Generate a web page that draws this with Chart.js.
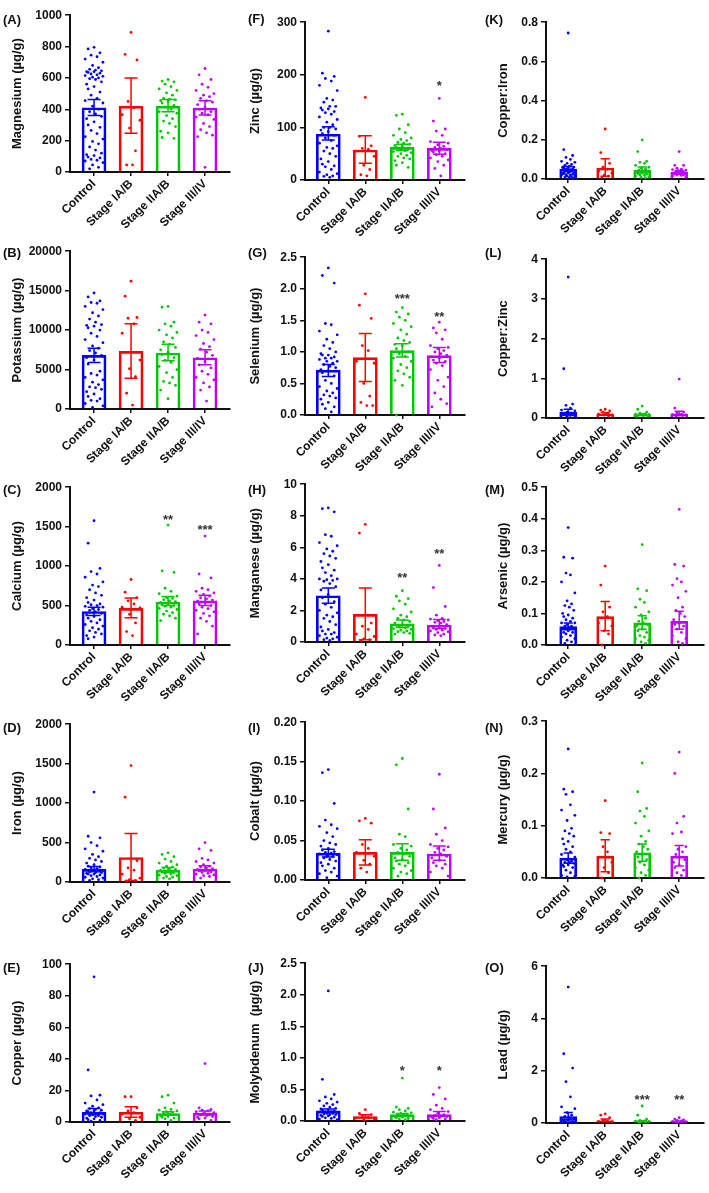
<!DOCTYPE html>
<html>
<head>
<meta charset="utf-8">
<script src="https://cdn.jsdelivr.net/npm/chart.js@4.4.0/dist/chart.umd.min.js"></script>
<style>
  body { margin: 0; background: #fff; }
  #fig { position: relative; width: 709px; height: 1193px; overflow: hidden; font-family: "Liberation Sans", Arial, sans-serif; }
  .panel { position: absolute; }
  .tag { position: absolute; font-weight: bold; font-size: 13px; color: #111; line-height: 16px; }
</style>
</head>
<body>
<div id="fig"></div>
<script>
// groups shared by every panel
const groups = ['Control', 'Stage IA/B', 'Stage IIA/B', 'Stage III/IV'];
const groupColors = ['#0000ff', '#ff0000', '#00c800', '#c000ff'];

// (A) Magnesium
const magnesiumMean = [410, 420, 420, 408];
const magnesiumCI = [[360, 462], [247, 600], [385, 463], [364, 455]];
const magnesiumStars = [null, null, null, null];
const magnesiumDots = [
  [795, 785, 760, 745, 735, 720, 700, 680, 665, 655, 650, 645, 640, 640, 635, 630, 625, 620, 615, 610, 605, 600, 595, 590, 575, 560, 545, 530, 510, 490, 470, 455, 440, 420, 400, 385, 370, 355, 340, 320, 300, 285, 265, 245, 225, 210, 195, 180, 160, 140, 120, 110, 105, 95, 90, 80, 75, 70, 60, 45, 30, 20],
  [890, 750, 715, 450, 410, 365, 330, 280, 135, 45, 45],
  [590, 580, 575, 560, 545, 530, 520, 505, 490, 470, 465, 460, 455, 450, 440, 425, 415, 400, 385, 375, 360, 340, 325, 310, 290, 260, 250, 220, 215],
  [660, 620, 590, 560, 540, 520, 500, 490, 480, 470, 455, 445, 430, 415, 400, 385, 375, 365, 350, 335, 310, 290, 270, 250, 235, 225, 30]
];

// (B) Potassium
const potassiumMean = [6800, 7300, 7100, 6500];
const potassiumCI = [[5900, 7700], [3900, 10800], [6100, 8200], [5600, 7500]];
const potassiumStars = [null, null, null, null];
const potassiumDots = [
  [14700, 14200, 13700, 13500, 13400, 13000, 12600, 12200, 11800, 11400, 11000, 10700, 10600, 10500, 10300, 10000, 9600, 9200, 8800, 8400, 8000, 7700, 7400, 7100, 6800, 6500, 6200, 5700, 4800, 4500, 4300, 4000, 3700, 3400, 3100, 2800, 2700, 2500, 2200, 1900, 1600, 1300, 1100, 1000, 700, 400, 200],
  [16200, 14300, 11600, 11500, 10800, 9600, 6200, 5100, 4100, 2000, 500],
  [13000, 12900, 11000, 10800, 10500, 10000, 9700, 9400, 9000, 8500, 8200, 7800, 7500, 7200, 6900, 6500, 6200, 5900, 5400, 5000, 4600, 4000, 3500, 3300, 3000, 2400, 1300],
  [11900, 11000, 10800, 10000, 9700, 9300, 8800, 8300, 7900, 7600, 7200, 6800, 6400, 6000, 5600, 5200, 4800, 4400, 4000, 3700, 3300, 2800, 2400, 1000]
];

// (C) Calcium
const calciumMean = [425, 465, 545, 560];
const calciumCI = [[375, 480], [345, 595], [500, 615], [500, 630]];
const calciumStars = [null, null, ['**', 1620], ['***', 1495]];
const calciumDots = [
  [1575, 1290, 970, 930, 900, 860, 800, 760, 740, 700, 660, 630, 600, 570, 540, 520, 510, 500, 490, 480, 460, 450, 440, 420, 400, 380, 360, 340, 320, 300, 280, 260, 240, 220, 200, 180, 160, 140, 120, 100, 80],
  [830, 670, 600, 560, 520, 480, 470, 390, 280, 170, 120],
  [1520, 940, 920, 720, 680, 650, 620, 600, 590, 575, 560, 550, 540, 525, 510, 500, 490, 480, 465, 450, 430, 410, 390, 370, 340, 310],
  [1380, 900, 850, 720, 700, 680, 660, 640, 620, 600, 585, 570, 555, 540, 520, 500, 480, 460, 440, 420, 400, 370, 340, 300, 240, 140]
];

// (D) Iron
const ironMean = [160, 310, 150, 165];
const ironCI = [[130, 195], [20, 615], [120, 185], [140, 205]];
const ironStars = [null, null, null, null];
const ironDots = [
  [1140, 580, 560, 500, 460, 420, 390, 350, 320, 300, 280, 260, 240, 220, 200, 190, 180, 170, 160, 150, 150, 140, 130, 120, 120, 110, 100, 100, 90, 80, 70, 60, 50, 40, 30, 20],
  [1475, 1075, 270, 180, 150, 100, 50, 30, 20, 10],
  [370, 350, 320, 290, 260, 240, 220, 200, 190, 180, 170, 160, 150, 140, 130, 120, 110, 100, 90, 80, 70, 60, 50, 40],
  [500, 420, 400, 300, 280, 260, 240, 220, 200, 190, 180, 170, 160, 150, 140, 130, 120, 110, 100, 90, 80, 70, 50]
];

// (E) Copper
const copperMean = [6.2, 6.2, 5.4, 5.6];
const copperCI = [[4.8, 8.5], [3, 9.7], [4.5, 6.5], [4.5, 7]];
const copperStars = [null, null, null, null];
const copperDots = [
  [92, 33, 17, 16.5, 14, 12, 11, 10, 9, 8.5, 8, 7.5, 7, 7, 6.5, 6, 6, 5.5, 5, 5, 4.5, 4, 4, 3.5, 3, 2.5, 2, 1.5, 1, 0.5],
  [16, 16, 9, 7, 6, 5, 3, 2, 1],
  [17, 16, 12, 9, 8, 7.5, 7, 6.5, 6, 5.5, 5, 4.5, 4, 3.5, 3, 2.5, 2, 1],
  [37, 9, 8, 7.5, 7, 6.5, 6, 5.5, 5, 4.5, 4, 3.5, 3, 2.5, 2, 1]
];

// (F) Zinc
const zincMean = [87, 57, 62, 60];
const zincCI = [[76, 101], [32, 84], [56, 68], [49, 72]];
const zincStars = [null, null, null, ['*', 184]];
const zincDots = [
  [283, 203, 197, 193, 188, 180, 170, 155, 152, 148, 140, 140, 137, 135, 133, 130, 128, 125, 120, 115, 110, 105, 100, 100, 97, 95, 92, 88, 85, 80, 75, 70, 65, 62, 60, 55, 50, 45, 40, 35, 30, 27, 25, 20, 15, 12, 10, 8, 7, 5],
  [157, 83, 65, 60, 58, 55, 45, 28, 20, 10, 8],
  [125, 123, 105, 97, 90, 85, 80, 77, 75, 72, 70, 68, 66, 64, 62, 60, 58, 56, 54, 52, 50, 47, 45, 42, 40, 37, 33, 28, 24],
  [155, 112, 97, 93, 85, 73, 70, 67, 64, 62, 60, 58, 56, 55, 53, 50, 48, 45, 42, 38, 35, 28, 22, 8]
];

// (G) Selenium
const seleniumMean = [0.71, 0.91, 1.02, 0.94];
const seleniumCI = [[0.61, 0.80], [0.53, 1.29], [0.92, 1.13], [0.83, 1.07]];
const seleniumStars = [null, null, ['***', 1.88], ['**', 1.60]];
const seleniumDots = [
  [2.33, 2.21, 2.09, 1.45, 1.43, 1.33, 1.27, 1.2, 1.15, 1.1, 1.05, 1.0, 0.97, 0.95, 0.95, 0.92, 0.9, 0.9, 0.88, 0.85, 0.85, 0.82, 0.8, 0.77, 0.75, 0.72, 0.7, 0.67, 0.62, 0.55, 0.5, 0.45, 0.42, 0.38, 0.35, 0.32, 0.3, 0.27, 0.25, 0.2, 0.17, 0.13, 0.1, 0.05],
  [1.92, 1.74, 1.53, 1.1, 1.02, 0.85, 0.82, 0.5, 0.3, 0.2, 0.15, 0.15],
  [1.7, 1.63, 1.6, 1.55, 1.5, 1.45, 1.4, 1.35, 1.28, 1.22, 1.18, 1.15, 1.12, 1.1, 1.05, 1.0, 0.97, 0.93, 0.9, 0.85, 0.8, 0.75, 0.7, 0.65, 0.6, 0.55, 0.47, 0.0],
  [1.47, 1.38, 1.35, 1.3, 1.2, 1.1, 1.07, 1.05, 1.02, 1.0, 0.97, 0.95, 0.92, 0.9, 0.87, 0.85, 0.82, 0.78, 0.72, 0.6, 0.55, 0.45, 0.35, 0.25, 0.18, 0.13]
];

// (H) Manganese
const manganeseMean = [2.93, 1.75, 1.15, 1.08];
const manganeseCI = [[2.45, 3.42], [0.15, 3.42], [0.92, 1.4], [0.85, 1.42]];
const manganeseStars = [null, null, ['**', 4.23], ['**', 5.75]];
const manganeseDots = [
  [8.5, 8.45, 8.25, 6.8, 6.7, 6.3, 6.1, 5.9, 5.75, 5.6, 5.45, 5.3, 5.1, 4.9, 4.7, 4.55, 4.4, 4.2, 4.0, 4.0, 3.95, 3.9, 3.85, 3.7, 3.5, 3.3, 3.0, 2.8, 2.55, 2.4, 2.2, 2.0, 1.85, 1.7, 1.6, 1.5, 1.3, 1.1, 0.95, 0.8, 0.7, 0.6, 0.5, 0.5, 0.4, 0.3, 0.25, 0.2, 0.15, 0.1],
  [7.45, 6.9, 1.2, 1.0, 0.8, 0.5, 0.35, 0.2, 0.15, 0.1],
  [3.25, 2.9, 2.75, 2.6, 2.4, 2.1, 1.9, 1.7, 1.6, 1.5, 1.4, 1.3, 1.2, 1.1, 1.05, 1.0, 0.95, 0.9, 0.85, 0.8, 0.75, 0.7, 0.65, 0.6, 0.55, 0.5],
  [4.85, 3.45, 2.25, 1.7, 1.5, 1.45, 1.4, 1.35, 1.3, 1.25, 1.2, 1.1, 1.0, 0.95, 0.9, 0.85, 0.8, 0.75, 0.7, 0.65, 0.6, 0.5, 0.45, 0.4]
];

// (I) Cobalt
const cobaltMean = [0.034, 0.035, 0.035, 0.033];
const cobaltCI = [[0.029, 0.039], [0.019, 0.051], [0.025, 0.046], [0.025, 0.043]];
const cobaltStars = [null, null, null, null];
const cobaltDots = [
  [0.14, 0.136, 0.097, 0.076, 0.07, 0.068, 0.065, 0.06, 0.055, 0.05, 0.047, 0.045, 0.043, 0.04, 0.038, 0.036, 0.035, 0.034, 0.033, 0.032, 0.03, 0.03, 0.028, 0.026, 0.024, 0.022, 0.02, 0.018, 0.015, 0.012, 0.01, 0.008, 0.005, 0.003],
  [0.078, 0.075, 0.072, 0.045, 0.04, 0.035, 0.03, 0.025, 0.02, 0.015, 0.01],
  [0.154, 0.146, 0.09, 0.058, 0.055, 0.045, 0.043, 0.04, 0.038, 0.035, 0.033, 0.03, 0.028, 0.026, 0.024, 0.022, 0.02, 0.018, 0.015, 0.012, 0.01, 0.008, 0.005],
  [0.134, 0.09, 0.066, 0.058, 0.05, 0.045, 0.042, 0.04, 0.038, 0.035, 0.033, 0.03, 0.028, 0.025, 0.022, 0.02, 0.018, 0.015, 0.01, 0.005]
];

// (J) Molybdenum
const molybdenumMean = [0.16, 0.07, 0.1, 0.1];
const molybdenumCI = [[0.13, 0.19], [0.05, 0.1], [0.08, 0.12], [0.07, 0.15]];
const molybdenumStars = [null, null, ['*', 0.84], ['*', 0.84]];
const molybdenumDots = [
  [2.06, 0.66, 0.42, 0.38, 0.35, 0.32, 0.3, 0.28, 0.26, 0.24, 0.22, 0.2, 0.19, 0.18, 0.17, 0.16, 0.15, 0.15, 0.14, 0.13, 0.12, 0.12, 0.11, 0.1, 0.1, 0.09, 0.08, 0.07, 0.06, 0.05, 0.04, 0.03, 0.02],
  [0.18, 0.12, 0.1, 0.08, 0.06, 0.05, 0.03, 0.02],
  [0.68, 0.22, 0.2, 0.18, 0.16, 0.14, 0.13, 0.12, 0.11, 0.1, 0.09, 0.08, 0.07, 0.06, 0.05, 0.04, 0.03, 0.02],
  [0.53, 0.42, 0.35, 0.25, 0.2, 0.18, 0.15, 0.12, 0.1, 0.09, 0.08, 0.07, 0.06, 0.05, 0.04, 0.03, 0.02]
];

// (K) Copper:Iron
const cuFeMean = [0.051, 0.056, 0.044, 0.034];
const cuFeCI = [[0.039, 0.064], [0.014, 0.103], [0.03, 0.061], [0.024, 0.044]];
const cuFeStars = [null, null, null, null];
const cuFeDots = [
  [0.745, 0.15, 0.12, 0.11, 0.1, 0.09, 0.085, 0.08, 0.075, 0.07, 0.065, 0.06, 0.06, 0.058, 0.055, 0.05, 0.05, 0.048, 0.045, 0.042, 0.04, 0.04, 0.038, 0.035, 0.032, 0.03, 0.03, 0.028, 0.025, 0.022, 0.02, 0.02, 0.018, 0.015, 0.012, 0.01, 0.008, 0.005],
  [0.255, 0.135, 0.08, 0.06, 0.05, 0.04, 0.03, 0.02, 0.015, 0.01],
  [0.2, 0.14, 0.09, 0.085, 0.08, 0.07, 0.06, 0.055, 0.05, 0.045, 0.04, 0.038, 0.035, 0.03, 0.028, 0.025, 0.02, 0.018, 0.015, 0.01, 0.008, 0.005],
  [0.14, 0.07, 0.07, 0.055, 0.05, 0.048, 0.045, 0.042, 0.04, 0.038, 0.035, 0.032, 0.03, 0.028, 0.025, 0.022, 0.02, 0.018, 0.015, 0.01]
];

// (L) Copper:Zinc
const cuZnMean = [0.14, 0.1, 0.085, 0.1];
const cuZnCI = [[0.08, 0.22], [0.08, 0.13], [0.07, 0.1], [0.06, 0.17]];
const cuZnStars = [null, null, null, null];
const cuZnDots = [
  [3.55, 1.24, 0.35, 0.32, 0.25, 0.2, 0.18, 0.15, 0.13, 0.12, 0.12, 0.1, 0.1, 0.09, 0.08, 0.08, 0.07, 0.06, 0.06, 0.05, 0.04],
  [0.22, 0.2, 0.18, 0.15, 0.12, 0.1, 0.08, 0.07, 0.05],
  [0.3, 0.22, 0.15, 0.12, 0.1, 0.1, 0.09, 0.08, 0.08, 0.07, 0.06, 0.05, 0.04],
  [0.98, 0.25, 0.15, 0.12, 0.1, 0.09, 0.08, 0.07, 0.06, 0.05]
];

// (M) Arsenic
const arsenicMean = [0.058, 0.09, 0.07, 0.075];
const arsenicCI = [[0.048, 0.07], [0.045, 0.138], [0.05, 0.093], [0.05, 0.107]];
const arsenicStars = [null, null, null, null];
const arsenicDots = [
  [0.372, 0.278, 0.275, 0.228, 0.222, 0.2, 0.165, 0.14, 0.13, 0.125, 0.12, 0.11, 0.1, 0.095, 0.09, 0.085, 0.08, 0.075, 0.07, 0.07, 0.065, 0.06, 0.06, 0.055, 0.05, 0.05, 0.045, 0.04, 0.04, 0.035, 0.03, 0.025, 0.02, 0.015, 0.01, 0.005],
  [0.25, 0.19, 0.12, 0.105, 0.09, 0.07, 0.06, 0.045, 0.035, 0.0],
  [0.318, 0.178, 0.172, 0.145, 0.135, 0.12, 0.105, 0.095, 0.085, 0.075, 0.07, 0.065, 0.06, 0.05, 0.045, 0.04, 0.03, 0.025, 0.02, 0.015, 0.01, 0.005],
  [0.43, 0.255, 0.25, 0.21, 0.2, 0.19, 0.17, 0.15, 0.12, 0.11, 0.1, 0.09, 0.08, 0.07, 0.065, 0.06, 0.05, 0.04, 0.03, 0.02, 0.01, 0.005]
];

// (N) Mercury
const mercuryMean = [0.038, 0.042, 0.048, 0.042];
const mercuryCI = [[0.028, 0.048], [0.012, 0.073], [0.032, 0.065], [0.023, 0.062]];
const mercuryStars = [null, null, null, null];
const mercuryDots = [
  [0.247, 0.17, 0.165, 0.16, 0.14, 0.13, 0.12, 0.11, 0.095, 0.09, 0.085, 0.08, 0.075, 0.07, 0.065, 0.06, 0.055, 0.05, 0.045, 0.04, 0.035, 0.032, 0.03, 0.03, 0.028, 0.025, 0.025, 0.022, 0.02, 0.015, 0.01, 0.005, 0.003, 0.002],
  [0.148, 0.087, 0.085, 0.06, 0.05, 0.04, 0.03, 0.02, 0.01, 0.0],
  [0.22, 0.165, 0.133, 0.128, 0.118, 0.105, 0.09, 0.08, 0.07, 0.065, 0.06, 0.055, 0.05, 0.045, 0.04, 0.035, 0.03, 0.025, 0.02, 0.015, 0.01, 0.005, 0.0],
  [0.241, 0.2, 0.118, 0.105, 0.088, 0.085, 0.06, 0.055, 0.05, 0.045, 0.04, 0.035, 0.03, 0.025, 0.02, 0.015, 0.01, 0.005]
];

// (O) Lead
const leadMean = [0.25, 0.08, 0.07, 0.06];
const leadCI = [[0.12, 0.4], [0.05, 0.15], [0.05, 0.09], [0.04, 0.08]];
const leadStars = [null, null, ['***', 0.96], ['**', 0.96]];
const leadDots = [
  [5.2, 2.65, 2.1, 1.58, 1.0, 0.62, 0.55, 0.4, 0.3, 0.25, 0.2, 0.15, 0.12, 0.1, 0.08, 0.06, 0.05, 0.04, 0.03, 0.02],
  [0.35, 0.3, 0.2, 0.1, 0.08, 0.06, 0.05],
  [0.65, 0.3, 0.15, 0.1, 0.08, 0.07, 0.06, 0.05, 0.04, 0.03],
  [0.2, 0.15, 0.12, 0.1, 0.08, 0.06, 0.05, 0.04]
];

// page layout per column
const colLeft = [0, 236, 472];
const colWidth = [236, 236, 237];
const axisX = [70, 305, 546];
const plotRight = [230, 465, 704];
const titlePad = [10, 12, 24];
const barW = [24, 24, 17];
const dotSpread = [1, 1, 0.75];
const xMin = [-0.65, -0.63, -0.6];
const tagX = [3, 248, 485];
const jitter = [0, -0.16, 0.16, -0.08, 0.08, -0.24, 0.24, -0.04, 0.12, -0.12, 0.04, 0.2, -0.2];

const panels = [
  { tag: '(A)', title: 'Magnesium (µg/g)', mean: magnesiumMean, ci: magnesiumCI, dots: magnesiumDots, stars: magnesiumStars, max: 1000, step: 200, dec: 0, col: 0, top: 15, zero: 172, tagY: 20 },
  { tag: '(F)', title: 'Zinc (µg/g)', mean: zincMean, ci: zincCI, dots: zincDots, stars: zincStars, max: 300, step: 100, dec: 0, col: 1, top: 22, zero: 180, tagY: 19 },
  { tag: '(K)', title: 'Copper:Iron', mean: cuFeMean, ci: cuFeCI, dots: cuFeDots, stars: cuFeStars, max: 0.8, step: 0.2, dec: 1, col: 2, top: 22, zero: 179, tagY: 20 },
  { tag: '(B)', title: 'Potassium (µg/g)', mean: potassiumMean, ci: potassiumCI, dots: potassiumDots, stars: potassiumStars, max: 20000, step: 5000, dec: 0, col: 0, top: 251, zero: 409, tagY: 253 },
  { tag: '(G)', title: 'Selenium (µg/g)', mean: seleniumMean, ci: seleniumCI, dots: seleniumDots, stars: seleniumStars, max: 2.5, step: 0.5, dec: 1, col: 1, top: 257, zero: 415, tagY: 253 },
  { tag: '(L)', title: 'Copper:Zinc', mean: cuZnMean, ci: cuZnCI, dots: cuZnDots, stars: cuZnStars, max: 4, step: 1, dec: 0, col: 2, top: 259, zero: 418, tagY: 253 },
  { tag: '(C)', title: 'Calcium (µg/g)', mean: calciumMean, ci: calciumCI, dots: calciumDots, stars: calciumStars, max: 2000, step: 500, dec: 0, col: 0, top: 487, zero: 645, tagY: 490 },
  { tag: '(H)', title: 'Manganese (µg/g)', mean: manganeseMean, ci: manganeseCI, dots: manganeseDots, stars: manganeseStars, max: 10, step: 2, dec: 0, col: 1, top: 484, zero: 642, tagY: 490 },
  { tag: '(M)', title: 'Arsenic (µg/g)', mean: arsenicMean, ci: arsenicCI, dots: arsenicDots, stars: arsenicStars, max: 0.5, step: 0.1, dec: 1, col: 2, top: 487, zero: 645, tagY: 490 },
  { tag: '(D)', title: 'Iron (µg/g)', mean: ironMean, ci: ironCI, dots: ironDots, stars: ironStars, max: 2000, step: 500, dec: 0, col: 0, top: 724, zero: 882, tagY: 728 },
  { tag: '(I)', title: 'Cobalt (µg/g)', mean: cobaltMean, ci: cobaltCI, dots: cobaltDots, stars: cobaltStars, max: 0.2, step: 0.05, dec: 2, col: 1, top: 722, zero: 880, tagY: 728 },
  { tag: '(N)', title: 'Mercury (µg/g)', mean: mercuryMean, ci: mercuryCI, dots: mercuryDots, stars: mercuryStars, max: 0.3, step: 0.1, dec: 1, col: 2, top: 721, zero: 878, tagY: 728 },
  { tag: '(E)', title: 'Copper (µg/g)', mean: copperMean, ci: copperCI, dots: copperDots, stars: copperStars, max: 100, step: 20, dec: 0, col: 0, top: 964, zero: 1122, tagY: 968 },
  { tag: '(J)', title: 'Molybdenum  (µg/g)', mean: molybdenumMean, ci: molybdenumCI, dots: molybdenumDots, stars: molybdenumStars, max: 2.5, step: 0.5, dec: 1, col: 1, top: 963, zero: 1121, tagY: 968 },
  { tag: '(O)', title: 'Lead (µg/g)', mean: leadMean, ci: leadCI, dots: leadDots, stars: leadStars, max: 6, step: 2, dec: 0, col: 2, top: 966, zero: 1123, tagY: 968 }
];

Chart.defaults.font.family = '"Liberation Sans", Arial, sans-serif';
Chart.defaults.color = '#111';

const fig = document.getElementById('fig');
const padTop = 10;
const xAxisH = 66;

function makePanel(p) {
  const c = p.col;
  const plotH = p.zero - p.top;
  const canvas = document.createElement('canvas');
  canvas.className = 'panel';
  canvas.width = colWidth[c];
  canvas.height = padTop + plotH + xAxisH;
  canvas.style.left = colLeft[c] + 'px';
  canvas.style.top = (p.top - padTop) + 'px';
  fig.appendChild(canvas);

  const tag = document.createElement('div');
  tag.className = 'tag';
  tag.textContent = p.tag;
  tag.style.left = tagX[c] + 'px';
  tag.style.top = (p.tagY - 8) + 'px';
  fig.appendChild(tag);

  // bars from the means, dots from the individual values
  const barData = p.mean.map((m, i) => ({ x: i, y: m }));
  const dotData = [];
  const dotColors = [];
  p.dots.forEach((vals, g) => {
    vals.forEach((v, k) => {
      dotData.push({ x: g + jitter[k % jitter.length] * dotSpread[c], y: v });
      dotColors.push(groupColors[g]);
    });
  });

  // error bars and significance marks
  const extras = {
    id: 'extras',
    afterDatasetsDraw(chart) {
      const { ctx, scales: { x, y } } = chart;
      const cap = barW[c] * 0.27;
      ctx.save();
      ctx.lineWidth = 1.5;
      p.ci.forEach((r, g) => {
        const px = x.getPixelForValue(g);
        const y1 = y.getPixelForValue(r[0]);
        const y2 = y.getPixelForValue(r[1]);
        ctx.strokeStyle = groupColors[g];
        ctx.beginPath();
        ctx.moveTo(px, y1); ctx.lineTo(px, y2);
        ctx.moveTo(px - cap, y1); ctx.lineTo(px + cap, y1);
        ctx.moveTo(px - cap, y2); ctx.lineTo(px + cap, y2);
        ctx.stroke();
      });
      ctx.fillStyle = '#333';
      ctx.font = 'bold 13px "Liberation Sans", Arial, sans-serif';
      ctx.textAlign = 'center';
      ctx.textBaseline = 'middle';
      p.stars.forEach((s, g) => {
        if (!s) return;
        ctx.fillText(s[0], x.getPixelForValue(g), y.getPixelForValue(s[1]) + 3);
      });
      ctx.restore();
    }
  };

  new Chart(canvas, {
    type: 'bar',
    data: {
      datasets: [
        {
          type: 'scatter',
          data: dotData,
          pointRadius: 1.4,
          pointHoverRadius: 1.4,
          pointBackgroundColor: dotColors,
          pointBorderWidth: 0,
          clip: false,
          order: 1
        },
        {
          type: 'bar',
          data: barData,
          barThickness: barW[c],
          backgroundColor: 'rgba(255,255,255,0)',
          borderColor: groupColors,
          borderWidth: 2,
          order: 2
        }
      ]
    },
    options: {
      responsive: false,
      animation: false,
      events: [],
      layout: { padding: { top: padTop, right: colLeft[c] + colWidth[c] - plotRight[c], left: 0, bottom: 0 } },
      plugins: { legend: { display: false }, tooltip: { enabled: false } },
      scales: {
        x: {
          type: 'linear',
          offset: false,
          min: xMin[c],
          max: xMin[c] + (plotRight[c] - axisX[c]) / 37,
          afterBuildTicks: axis => { axis.ticks = groups.map((_, i) => ({ value: i })); },
          afterFit: scale => { scale.height = xAxisH; },
          ticks: {
            autoSkip: false,
            maxRotation: 45,
            minRotation: 45,
            padding: 1,
            color: '#111',
            font: { size: 12, weight: 'bold' },
            callback: v => groups[v]
          },
          grid: { offset: false, drawOnChartArea: false, drawTicks: true, tickLength: 4, color: '#111', lineWidth: 1.5 },
          border: { color: '#111', width: 2 }
        },
        y: {
          min: 0,
          max: p.max,
          afterFit: scale => { scale.width = axisX[c] - colLeft[c]; },
          ticks: {
            stepSize: p.step,
            padding: 3,
            color: '#111',
            font: { size: 12, weight: 'bold' },
            callback: v => Number(v).toFixed(p.dec)
          },
          grid: { drawOnChartArea: false, drawTicks: true, tickLength: 5, color: '#111', lineWidth: 1.5 },
          border: { color: '#111', width: 2 },
          title: {
            display: true,
            text: p.title,
            color: '#111',
            font: { size: 13, weight: 'bold' },
            padding: { top: titlePad[c], bottom: 0 }
          }
        }
      }
    },
    plugins: [extras]
  });
}

panels.forEach(makePanel);
</script>
</body>
</html>
